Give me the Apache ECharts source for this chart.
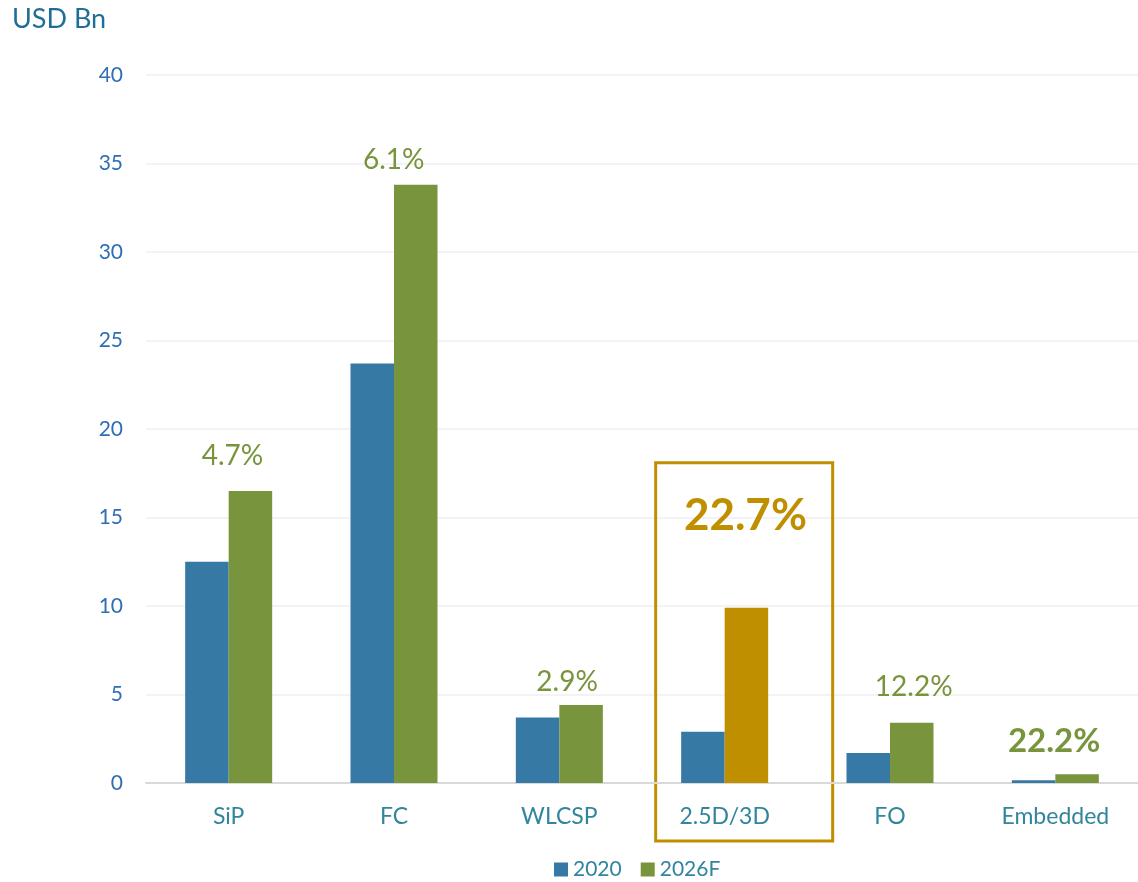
<!DOCTYPE html>
<html>
<head>
<meta charset="utf-8">
<script src="https://cdn.jsdelivr.net/npm/echarts@6/dist/echarts.min.js"></script>
</head>
<body style="margin:0">
<div id="main" style="width:1138px;height:882px;"></div>
<script>
    var categories = ['SiP', 'FC', 'WLCSP', '2.5D/3D', 'FO', 'Embedded'];
    var values2020 = [12.5, 23.7, 3.7, 2.9, 1.7, 0.15];
    var values2026 = [16.5, 33.8, 4.4, 9.9, 3.4, 0.5];
    var cagr = ['4.7%', '6.1%', '2.9%', '22.7%', '12.2%', '22.2%'];
    var yTicks = [0, 5, 10, 15, 20, 25, 30, 35, 40];

    var highlight = 3; // 2.5D/3D 框出
    var green = '#78943C', blue = '#3779A5', gold = '#BF8F00';
    var font = 'Lato, "Open Sans", sans-serif';

    // 每个类别的 CAGR 标签位置微调
    var labelShift = [-18, -22, -14, -1, 2, -23];
    var labelLift = [16, 6, 4, 65, 17, 11];
    var data2026 = values2026.map(function (v, i) {
        var big = i === highlight, bold = i === highlight || i === 5;
        var item = {
            value: v,
            label: {
                show: true,
                position: 'top',
                formatter: cagr[i],
                offset: [labelShift[i], -labelLift[i]],
                color: big ? gold : green,
                fontSize: big ? 44 : (bold ? 33 : 28),
                fontWeight: bold ? 'bold' : 'normal',
                fontFamily: font
            }
        };
        if (big) item.itemStyle = {color: gold};
        return item;
    });

    var myChart = echarts.init(document.getElementById('main'));
    var option = {
        animation: false,
        title: {
            text: 'USD Bn',
            left: 7, top: 1,
            textStyle: {color: '#1F6E9A', fontSize: 27, fontWeight: 'normal', fontFamily: font}
        },
        legend: {
            bottom: -3,
            left: 549,
            itemWidth: 14, itemHeight: 14, itemGap: 19,
            icon: 'rect',
            textStyle: {color: '#31859C', fontSize: 21, fontFamily: font},
            data: ['2020', '2026F']
        },
        grid: {left: 146, right: 0, top: 75, bottom: 99},
        xAxis: {
            type: 'category',
            data: categories,
            axisTick: {show: false},
            axisLine: {lineStyle: {color: '#D9D9D9', width: 2}},
            axisLabel: {color: '#31859C', fontSize: 23, margin: 22, fontFamily: font}
        },
        yAxis: {
            type: 'value',
            min: yTicks[0], max: yTicks[yTicks.length - 1], interval: 5,
            axisLabel: {color: '#2F6EB5', fontSize: 21, margin: 23, fontFamily: font},
            splitLine: {lineStyle: {color: '#EFEFEF', width: 1.5}}
        },
        series: [
            {name: '2020', type: 'bar', data: values2020, barWidth: 43.5, barGap: '0%',
             itemStyle: {color: blue}},
            {name: '2026F', type: 'bar', data: data2026, barWidth: 43.5,
             itemStyle: {color: green}}
        ]
    };
    myChart.setOption(option);

    // 高亮框
    var cx = myChart.convertToPixel({xAxisIndex: 0}, categories[highlight]);
    var boxTop = myChart.convertToPixel({yAxisIndex: 0}, 18.1);
    myChart.setOption({
        graphic: [{
            type: 'rect',
            shape: {x: cx - 69, y: boxTop, width: 177, height: 841 - boxTop},
            style: {fill: 'none', stroke: gold, lineWidth: 3}
        }]
    });
</script>
</body>
</html>
